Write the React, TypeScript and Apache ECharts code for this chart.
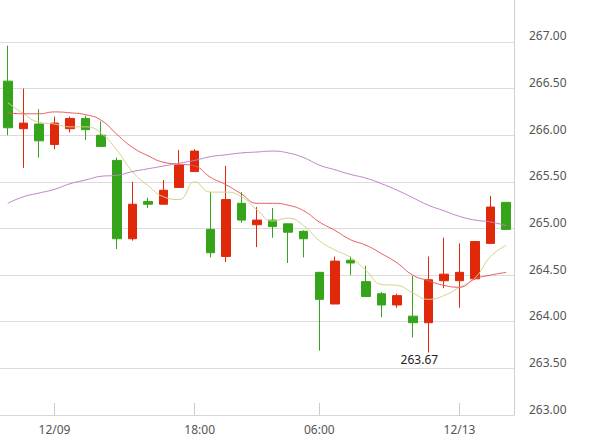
import React, { useEffect, useRef } from "react";
import * as echarts from "echarts";

// x-axis categories (only labelled slots carry text)
const categories: string[] = [
  "", "", "", "12/09", "", "", "", "", "", "", "", "", "18:00", "", "", "", "",
  "", "", "", "06:00", "", "", "", "", "", "", "", "", "12/13", "", "", "",
];

// candles: [open, close, low, high]
const candles: number[][] = [
  [266.58, 266.08, 266.0, 266.96],
  [266.07, 266.13, 265.65, 266.5],
  [266.12, 265.94, 265.76, 266.28],
  [265.9, 266.13, 265.85, 266.2],
  [266.07, 266.18, 266.03, 266.2],
  [266.18, 266.06, 265.95, 266.21],
  [266.0, 265.88, 265.88, 266.15],
  [265.73, 264.89, 264.78, 265.76],
  [264.89, 265.26, 264.87, 265.5],
  [265.29, 265.26, 265.22, 265.33],
  [265.26, 265.41, 265.26, 265.52],
  [265.44, 265.68, 265.44, 265.84],
  [265.61, 265.83, 265.61, 265.85],
  [264.99, 264.74, 264.69, 265.39],
  [264.7, 265.31, 264.64, 265.67],
  [265.27, 265.09, 265.06, 265.39],
  [265.04, 265.09, 264.8, 265.23],
  [265.09, 265.02, 264.9, 265.22],
  [265.05, 264.96, 264.63, 265.05],
  [264.97, 264.89, 264.69, 264.98],
  [264.53, 264.24, 263.69, 264.53],
  [264.19, 264.65, 264.19, 264.7],
  [264.66, 264.63, 264.5, 264.7],
  [264.43, 264.27, 264.27, 264.6],
  [264.3, 264.18, 264.05, 264.32],
  [264.18, 264.28, 264.15, 264.3],
  [264.06, 263.99, 263.83, 264.49],
  [263.99, 264.45, 263.67, 264.7],
  [264.44, 264.51, 264.36, 264.9],
  [264.44, 264.53, 264.15, 264.84],
  [264.46, 264.86, 264.46, 264.86],
  [264.84, 265.23, 264.84, 265.35],
  [265.28, 264.99, 264.99, 265.28],
];

const ma5: number[] = [
  266.35, 266.23, 266.14, 266.12, 266.09, 266.09, 266.02, 265.84, 265.61, 265.46,
  265.34, 265.31, 265.5, 265.39, 265.39, 265.34, 265.2, 265.08, 265.11, 265.03,
  264.87, 264.77, 264.69, 264.55, 264.4, 264.39, 264.31, 264.24, 264.28, 264.37,
  264.47, 264.7, 264.82,
];

const ma10: number[] = [
  266.24, 266.23, 266.23, 266.25, 266.24, 266.22, 266.16, 266.01, 265.87, 265.78,
  265.71, 265.69, 265.67, 265.55, 265.47, 265.37, 265.27, 265.27, 265.25, 265.19,
  265.07, 264.98, 264.88, 264.82, 264.73, 264.63, 264.5, 264.44, 264.39, 264.37,
  264.46, 264.5, 264.53,
];

const ma20: number[] = [
  265.27, 265.34, 265.38, 265.42, 265.48, 265.52, 265.56, 265.57, 265.61, 265.64,
  265.67, 265.7, 265.73, 265.77, 265.79, 265.81, 265.82, 265.83, 265.81, 265.76,
  265.68, 265.63, 265.58, 265.54, 265.48, 265.41, 265.33, 265.25, 265.19, 265.13,
  265.09, 265.07, 265.03,
];

const yMin = 263;
const yMax = 267.45;
const yInterval = 0.5;

export default function App() {
  const ref = useRef<HTMLDivElement>(null);

  useEffect(() => {
    document.body.style.margin = "0";
    if (!ref.current) return;
    const chart = echarts.init(ref.current, null, { renderer: "svg" });
    const labelShown = (i: number) => categories[i] !== "";
    chart.setOption({
      animation: false,
      backgroundColor: "#ffffff",
      textStyle: { fontFamily: "'Noto Sans', sans-serif" },
      grid: { left: 0, right: 93, top: 0, bottom: 27, containLabel: false },
      xAxis: {
        type: "category",
        data: categories,
        boundaryGap: true,
        axisLine: { show: true, lineStyle: { color: "#d6d6d6", width: 1 } },
        axisTick: {
          show: true,
          inside: true,
          length: 12,
          alignWithLabel: true,
          interval: (i: number) => labelShown(i),
          lineStyle: { color: "#c8ccd2" },
        },
        axisLabel: {
          interval: (i: number) => labelShown(i),
          color: "#555555",
          fontSize: 12,
          margin: 8,
          formatter: (v: string) => (v === "18:00" ? "{s|18:00}" : v),
          rich: { s: { padding: [0, 0, 0, 10], color: "#555555", fontSize: 12 } },
        },
        splitLine: { show: false },
      },
      yAxis: {
        type: "value",
        position: "right",
        min: yMin,
        max: yMax,
        interval: yInterval,
        scale: true,
        axisLine: { show: true, lineStyle: { color: "#c9d0d9", width: 1 } },
        axisTick: { show: false },
        axisLabel: {
          color: "#555555",
          fontSize: 12,
          margin: 15,
          verticalAlign: "bottom",
          showMaxLabel: false,
          formatter: (v: number) => v.toFixed(2),
        },
        splitLine: { show: true, showMaxLine: false, lineStyle: { color: "#dcdcdc", width: 1 } },
      },
      series: [
        {
          type: "candlestick",
          data: candles,
          barWidth: 9,
          itemStyle: {
            color: "#e0290b",
            color0: "#35a41b",
            borderColor: "#e0290b",
            borderColor0: "#35a41b",
            borderWidth: 1,
          },
          markPoint: {
            symbol: "rect",
            symbolSize: 1,
            itemStyle: { color: "rgba(0,0,0,0)" },
            label: {
              show: true,
              position: "bottom",
              distance: 0,
              offset: [-9, 0],
              color: "#222222",
              fontSize: 12,
              formatter: (p: any) => Number(p.value).toFixed(2),
            },
            data: [{ type: "min", valueDim: "lowest" }],
          },
          z: 3,
        },
        {
          type: "line",
          data: ma5,
          smooth: true,
          symbol: "none",
          lineStyle: { color: "#d8cf88", width: 1 },
          z: 4,
        },
        {
          type: "line",
          data: ma10,
          smooth: true,
          symbol: "none",
          lineStyle: { color: "#ea5a62", width: 1 },
          z: 4,
        },
        {
          type: "line",
          data: ma20,
          smooth: true,
          symbol: "none",
          lineStyle: { color: "#c27fcb", width: 1 },
          z: 4,
        },
      ],
    });
    return () => chart.dispose();
  }, []);

  return <div ref={ref} style={{ width: 607, height: 442 }} />;
}
